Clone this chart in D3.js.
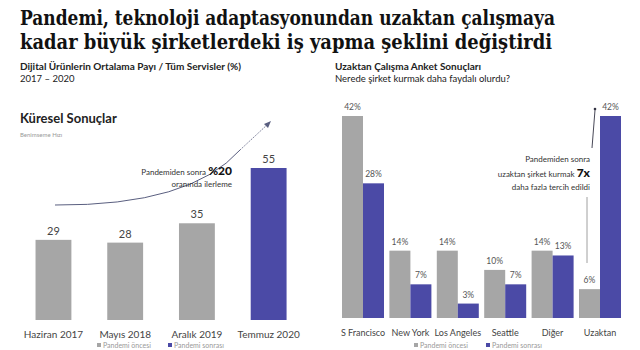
<!DOCTYPE html>
<html><head><meta charset="utf-8">
<script src="https://cdn.jsdelivr.net/npm/d3@7"></script>
<style>body{margin:0;background:#fff}svg{display:block}</style>
</head><body>
<script>
// ---- data ----
const leftCategories = ["Haziran 2017", "Mayıs 2018", "Aralık 2019", "Temmuz 2020"];
const leftValues = [29, 28, 35, 55];
const leftPhase = ["once", "once", "once", "sonra"];
const rightCategories = ["S Francisco", "New York", "Los Angeles", "Seattle", "Diğer", "Uzaktan"];
const rightBefore = [42, 14, 14, 10, 14, 6];
const rightAfter = [28, 7, 3, 7, 13, 42];
const legendLabels = ["Pandemi öncesi", "Pandemi sonrası"];

const W = 640, H = 350;
const GRAY = "#a6a6a6", BLUE = "#4b4aa6";
const FONT = "Lato, 'Open Sans', sans-serif";
const svg = d3.select("body").append("svg").attr("width", W).attr("height", H)
  .style("font-family", FONT);

// Title
const titleLines = ["Pandemi, teknoloji adaptasyonundan uzaktan çalışmaya",
                    "kadar büyük şirketlerdeki iş yapma şeklini değiştirdi"];
const tl = [535, 532];
titleLines.forEach((t, i) => {
  svg.append("text").attr("x", 20).attr("y", 25 + i * 24)
    .attr("font-family", "'DejaVu Serif Condensed', 'DejaVu Serif', serif")
    .attr("font-stretch", "condensed").attr("font-weight", 900)
    .attr("font-size", 20).attr("fill", "#111")
    .attr("textLength", tl[i]).attr("lengthAdjust", "spacingAndGlyphs")
    .text(t);
});

// ---- Left chart ----
svg.append("text").attr("x", 20).attr("y", 70).attr("font-size", 10).attr("font-weight", 700)
  .attr("fill", "#222").text("Dijital Ürünlerin Ortalama Payı / Tüm Servisler (%)");
svg.append("text").attr("x", 20).attr("y", 82).attr("font-size", 9.5).attr("fill", "#222")
  .text("2017 – 2020");
svg.append("text").attr("x", 20).attr("y", 123).attr("font-size", 13).attr("font-weight", 700)
  .attr("fill", "#222").text("Küresel Sonuçlar");
svg.append("text").attr("x", 20).attr("y", 137).attr("font-size", 6).attr("fill", "#999")
  .text("Benimseme Hızı");

const xL = d3.scaleBand().domain(leftCategories).range([17.6, 304.5]).paddingInner(0.5).paddingOuter(0.25);
const yL = d3.scaleLinear().domain([0, 55]).range([320, 168]);

svg.append("g").selectAll("rect").data(leftCategories).join("rect")
  .attr("x", d => xL(d)).attr("width", xL.bandwidth())
  .attr("y", (d, i) => yL(leftValues[i])).attr("height", (d, i) => yL(0) - yL(leftValues[i]))
  .attr("fill", (d, i) => leftPhase[i] === "once" ? GRAY : BLUE);
svg.append("g").selectAll("text").data(leftCategories).join("text")
  .attr("x", d => xL(d) + xL.bandwidth() / 2).attr("y", (d, i) => yL(leftValues[i]) - 5)
  .attr("text-anchor", "middle").attr("font-size", 11).attr("fill", "#444")
  .text((d, i) => leftValues[i]);

const axL = svg.append("g").attr("transform", "translate(0,320)")
  .call(d3.axisBottom(xL).tickSize(0).tickPadding(11));
axL.select(".domain").remove();
axL.selectAll("text").attr("font-size", 10).attr("fill", "#444").attr("font-family", FONT);

// annotation
svg.append("path").attr("d", "M55,205 Q190,206 240,150")
  .attr("fill", "none").attr("stroke", "#5a5f80").attr("stroke-width", 1);
svg.append("path").attr("d", "M240,150 L268,124")
  .attr("fill", "none").attr("stroke", "#5a5f80").attr("stroke-width", 0.8).attr("stroke-dasharray", "1.5,1");
svg.append("path").attr("d", "M271,121 L264,124 L268,128 Z").attr("fill", "#5a5f80");
const a1 = svg.append("text").attr("x", 232).attr("y", 175).attr("text-anchor", "end")
  .attr("font-size", 8).attr("fill", "#333");
a1.append("tspan").text("Pandemiden sonra ");
a1.append("tspan").attr("font-size", 12).attr("font-weight", 900).attr("fill", "#111").text("%20");
svg.append("text").attr("x", 232).attr("y", 187).attr("text-anchor", "end")
  .attr("font-size", 8).attr("fill", "#333").text("oranında ilerleme");

// legend left
[[97, 101, GRAY, 0], [168, 172, BLUE, 1]].forEach(([sx, tx, c, i]) => {
  svg.append("rect").attr("x", sx).attr("y", 343).attr("width", 4).attr("height", 4).attr("fill", c);
  svg.append("text").attr("x", tx + 2).attr("y", 348).attr("font-size", 7).attr("fill", "#999").text(legendLabels[i]);
});

// ---- Right chart ----
svg.append("text").attr("x", 335).attr("y", 70).attr("font-size", 10).attr("font-weight", 700)
  .attr("fill", "#222").text("Uzaktan Çalışma Anket Sonuçları");
svg.append("text").attr("x", 335).attr("y", 82).attr("font-size", 9.5).attr("fill", "#222")
  .text("Nerede şirket kurmak daha faydalı olurdu?");

const xR = d3.scaleBand().domain(rightCategories).range([339.3, 623.7]).paddingInner(0.114).paddingOuter(0.057);
const xS = d3.scaleBand().domain([0, 1]).range([0, xR.bandwidth()]);
const yR = d3.scaleLinear().domain([0, 42]).range([318, 116]);

const rows = rightCategories.map((c, i) => ({c, vals: [rightBefore[i], rightAfter[i]]}));
const grp = svg.append("g").selectAll("g").data(rows).join("g")
  .attr("transform", d => `translate(${xR(d.c)},0)`);
grp.selectAll("rect").data(d => d.vals.map((v, k) => ({v, k}))).join("rect")
  .attr("x", d => xS(d.k)).attr("width", xS.bandwidth())
  .attr("y", d => yR(d.v)).attr("height", d => yR(0) - yR(d.v))
  .attr("fill", d => d.k === 0 ? GRAY : BLUE);
grp.selectAll("text").data(d => d.vals.map((v, k) => ({v, k}))).join("text")
  .attr("x", d => xS(d.k) + xS.bandwidth() / 2).attr("y", d => yR(d.v) - 6)
  .attr("text-anchor", "middle").attr("font-size", 8.5).attr("fill", "#555")
  .text(d => d.v + "%");

const axR = svg.append("g").attr("transform", "translate(0,318)")
  .call(d3.axisBottom(xR).tickSize(0).tickPadding(12));
axR.select(".domain").remove();
axR.selectAll("text").attr("font-size", 9).attr("fill", "#444").attr("font-family", FONT);

// annotation right
svg.append("line").attr("x1", 587).attr("x2", 587).attr("y1", 197).attr("y2", 263)
  .attr("stroke", "#888").attr("stroke-width", 0.8);
svg.append("line").attr("x1", 592).attr("x2", 595).attr("y1", 148).attr("y2", 110)
  .attr("stroke", "#334").attr("stroke-width", 0.9);
svg.append("circle").attr("cx", 595).attr("cy", 109).attr("r", 1.3).attr("fill", "#334");
svg.append("text").attr("x", 590).attr("y", 162).attr("text-anchor", "end")
  .attr("font-size", 8).attr("fill", "#333").text("Pandemiden sonra");
const a2 = svg.append("text").attr("x", 590).attr("y", 177).attr("text-anchor", "end")
  .attr("font-size", 8).attr("fill", "#333");
a2.append("tspan").text("uzaktan şirket kurmak ");
a2.append("tspan").attr("font-size", 12).attr("font-weight", 900).attr("fill", "#111").text("7x");
svg.append("text").attr("x", 590).attr("y", 190).attr("text-anchor", "end")
  .attr("font-size", 8).attr("fill", "#333").text("daha fazla tercih edildi");

[[414, 418, GRAY, 0], [486, 490, BLUE, 1]].forEach(([sx, tx, c, i]) => {
  svg.append("rect").attr("x", sx).attr("y", 343).attr("width", 4).attr("height", 4).attr("fill", c);
  svg.append("text").attr("x", tx + 2).attr("y", 348).attr("font-size", 7).attr("fill", "#999").text(legendLabels[i]);
});
</script>
</body></html>
